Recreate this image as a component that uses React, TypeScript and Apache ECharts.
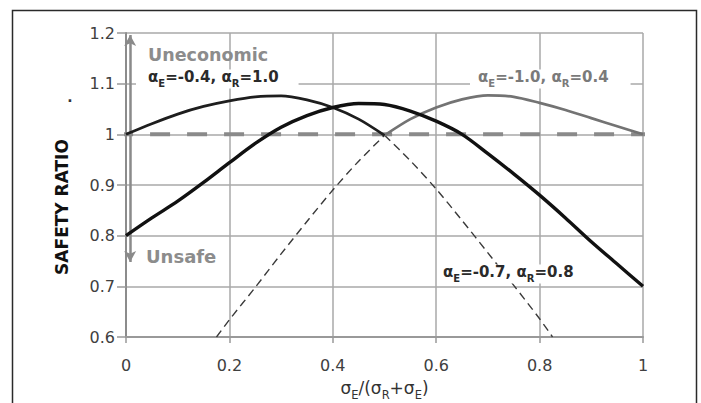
import React, { useEffect, useRef } from "react";
import * as echarts from "echarts";

const F = "DejaVu Sans, Liberation Sans, Arial, sans-serif";

// Curve αE=-0.4, αR=1.0 (solid part above 1, dashed part below)
const aSolidX = [0, 0.05, 0.1, 0.15, 0.2, 0.25, 0.3, 0.35, 0.4, 0.45, 0.5];
const aSolidY = [1.0, 1.021, 1.04, 1.055, 1.066, 1.074, 1.076, 1.068, 1.053, 1.03, 0.998];
const aDashX = [0.5, 0.55, 0.6, 0.65, 0.7, 0.75, 0.8, 0.825];
const aDashY = [0.998, 0.948, 0.892, 0.83, 0.766, 0.702, 0.636, 0.6];

// Curve αE=-0.7, αR=0.8
const bX = [0, 0.05, 0.1, 0.15, 0.2, 0.25, 0.3, 0.35, 0.4, 0.45, 0.5, 0.55, 0.6, 0.65, 0.7, 0.75, 0.8, 0.85, 0.9, 0.95, 1.0];
const bY = [0.8, 0.835, 0.868, 0.905, 0.944, 0.982, 1.014, 1.037, 1.053, 1.061, 1.059, 1.046, 1.026, 1.0, 0.962, 0.922, 0.88, 0.835, 0.788, 0.744, 0.7];

// Curve αE=-1.0, αR=0.4
const cDashX = [0.175, 0.2, 0.25, 0.3, 0.35, 0.4, 0.45, 0.5];
const cDashY = [0.6, 0.634, 0.698, 0.764, 0.828, 0.89, 0.947, 0.998];
const cSolidX = [0.5, 0.55, 0.6, 0.65, 0.7, 0.75, 0.8, 0.85, 0.9, 0.95, 1.0];
const cSolidY = [0.998, 1.03, 1.053, 1.069, 1.077, 1.074, 1.062, 1.048, 1.032, 1.016, 1.0];

// Reference line (safety ratio = 1)
const refX = [-0.025, 1.03];
const refY = [1, 1];

// Double arrow Uneconomic / Unsafe
const arrowX = 0.008;
const arrowBottom = 0.748;
const arrowTop = 1.196;

// Axis ticks
const xTicks = { min: 0, max: 1, interval: 0.2 };
const yTicks = { min: 0.6, max: 1.2, interval: 0.1 };

// Texts
const labelA = ["-0.4", "1.0"];
const labelB = ["-0.7", "0.8"];
const labelC = ["-1.0", "0.4"];
const yName = "SAFETY RATIO";
const topText = "Uneconomic";
const bottomText = "Unsafe";

const zip = (xs: number[], ys: number[]) => xs.map((x, i) => [x, ys[i]]);

const alphaText = (v: string[]) => `{m|α}{s|E}{m|=${v[0]}, α}{s|R}{m|=${v[1]}}`;
const alphaRich = (color: string) => ({
  m: { fontSize: 15, fontWeight: "bold", fontFamily: F, fill: color, lineHeight: 16, verticalAlign: "top" },
  s: { fontSize: 10, fontWeight: "bold", fontFamily: F, fill: color, lineHeight: 19, verticalAlign: "bottom" },
});

export default function App() {
  const ref = useRef<HTMLDivElement>(null);
  useEffect(() => {
    document.body.style.margin = "0";
    const chart = echarts.init(ref.current as HTMLDivElement, null, { renderer: "svg", width: 701, height: 403 });
    const option: any = {
      animation: false,
      backgroundColor: "#ffffff",
      grid: { left: 126, top: 33, width: 517, height: 304, containLabel: false, outerBoundsMode: "none" },
      xAxis: {
        type: "value",
        min: xTicks.min,
        max: xTicks.max,
        interval: xTicks.interval,
        name: "{m|σ}{s|E}{m|/(σ}{s|R}{m|+σ}{s|E}{m|)}",
        nameLocation: "middle",
        nameGap: 42,
        nameTextStyle: {
          rich: {
            m: { fontSize: 17, color: "#333", fontFamily: F, lineHeight: 20, verticalAlign: "top" },
            s: { fontSize: 11.5, color: "#333", fontFamily: F, lineHeight: 22, verticalAlign: "bottom" },
          },
        },
        axisLine: { show: true, onZero: false, lineStyle: { color: "#999", width: 2 } },
        axisTick: { show: true, length: 6, lineStyle: { color: "#999", width: 1.5 } },
        axisLabel: { margin: 20, fontSize: 16, color: "#404040", fontFamily: F },
        splitLine: { show: true, lineStyle: { color: "#a8a8a8", width: 1.5 } },
      },
      yAxis: {
        type: "value",
        min: yTicks.min,
        max: yTicks.max,
        interval: yTicks.interval,
        axisLine: { show: true, onZero: false, lineStyle: { color: "#8c8c8c", width: 2 } },
        axisTick: { show: true, length: 9, lineStyle: { color: "#999", width: 1.5 } },
        axisLabel: { margin: 11, fontSize: 16, color: "#404040", fontFamily: F },
        splitLine: { show: true, lineStyle: { color: "#a8a8a8", width: 1.5 } },
      },
      series: [
        {
          type: "line",
          name: "ref",
          data: zip(refX, refY),
          clip: false,
          symbol: "none",
          z: 2,
          lineStyle: { color: "#8a8a8a", width: 4, type: [20, 17] },
          markLine: {
            silent: true,
            symbol: ["arrow", "arrow"],
            symbolSize: [9, 11],
            label: { show: false },
            lineStyle: { color: "#8a8a8a", width: 2.5, type: "solid" },
            data: [[{ coord: [arrowX, arrowBottom] }, { coord: [arrowX, arrowTop] }]],
          },
        },
        {
          type: "line",
          name: "aDash",
          data: zip(aDashX, aDashY),
          symbol: "none",
          smooth: 0.3,
          z: 3,
          lineStyle: { color: "#3a3a3a", width: 1.4, type: [8, 5] },
        },
        {
          type: "line",
          name: "cDash",
          data: zip(cDashX, cDashY),
          symbol: "none",
          smooth: 0.3,
          z: 3,
          lineStyle: { color: "#3a3a3a", width: 1.4, type: [8, 5] },
        },
        {
          type: "line",
          name: "cSolid",
          data: zip(cSolidX, cSolidY),
          symbol: "none",
          smooth: 0.3,
          z: 4,
          lineStyle: { color: "#737373", width: 2.7 },
        },
        {
          type: "line",
          name: "aSolid",
          data: zip(aSolidX, aSolidY),
          symbol: "none",
          smooth: 0.3,
          z: 5,
          lineStyle: { color: "#1e1e1e", width: 2.8 },
        },
        {
          type: "line",
          name: "b",
          data: zip(bX, bY),
          symbol: "none",
          smooth: 0.3,
          z: 6,
          lineStyle: { color: "#111", width: 3.4 },
        },
      ],
      graphic: [
        {
          type: "rect",
          silent: true,
          z: 100,
          shape: { x: 12.5, y: 10.5, width: 684, height: 430 },
          style: { fill: "none", stroke: "#2a2a2a", lineWidth: 1.5 },
        },
        {
          type: "text",
          x: 148,
          y: 55,
          z: 100,
          style: { text: topText, fontSize: 17.5, fontWeight: "bold", fontFamily: F, fill: "#8c8c8c", verticalAlign: "middle", textVerticalAlign: "middle" },
        },
        {
          type: "text",
          x: 146,
          y: 256,
          z: 100,
          style: { text: bottomText, fontSize: 18, fontWeight: "bold", fontFamily: F, fill: "#8c8c8c", verticalAlign: "middle", textVerticalAlign: "middle" },
        },
        {
          type: "text",
          x: 136,
          y: 79,
          z: 100,
          style: {
            text: alphaText(labelA),
            rich: alphaRich("#2a2a2a"),
            backgroundColor: "#ffffff",
            padding: [0, 20, 0, 12],
            verticalAlign: "middle",
            textVerticalAlign: "middle",
          },
        },
        {
          type: "text",
          x: 470,
          y: 79,
          z: 100,
          style: {
            text: alphaText(labelC),
            rich: alphaRich("#7a7a7a"),
            backgroundColor: "#ffffff",
            padding: [0, 22, 0, 8],
            verticalAlign: "middle",
            textVerticalAlign: "middle",
          },
        },
        {
          type: "text",
          x: 439,
          y: 274,
          z: 100,
          style: {
            text: alphaText(labelB),
            rich: alphaRich("#2a2a2a"),
            backgroundColor: "#ffffff",
            padding: [0, 4, 0, 4],
            verticalAlign: "middle",
            textVerticalAlign: "middle",
          },
        },
        {
          type: "text",
          x: 62,
          y: 207,
          rotation: Math.PI / 2,
          z: 100,
          style: {
            text: yName,
            fontSize: 17,
            fontWeight: "bold",
            fontFamily: F,
            fill: "#111",
            align: "center",
            textAlign: "center",
            verticalAlign: "middle",
            textVerticalAlign: "middle",
          },
        },
        {
          type: "text",
          x: 70,
          y: 97,
          z: 100,
          style: { text: ".", fontSize: 14, fontWeight: "bold", fontFamily: F, fill: "#333", align: "center", textAlign: "center", verticalAlign: "middle", textVerticalAlign: "middle" },
        },
      ],
    };
    chart.setOption(option);
    return () => chart.dispose();
  }, []);
  return <div ref={ref} style={{ width: 701, height: 403 }} />;
}
